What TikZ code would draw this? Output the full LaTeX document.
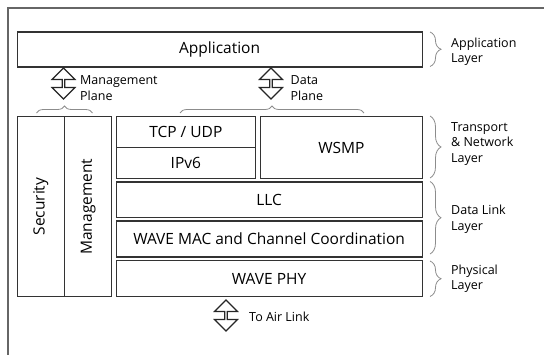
\documentclass[tikz,border=0pt]{standalone}
\usepackage{fontspec}
\setmainfont{Open Sans}
\usetikzlibrary{shapes.arrows,decorations.pathreplacing}

\begin{document}
\begin{tikzpicture}[x=1pt,y=-1pt,
        layerbox/.style={draw=black!80,line width=1.2pt,inner sep=0pt,anchor=north west,
            font=\fontsize{15.5}{18}\selectfont},
        updown/.style={double arrow,shape border rotate=90,draw=black!85,line width=1.1pt,
            minimum height=31pt,minimum width=23pt,double arrow head extend=4.5pt,inner sep=0pt},
        sidetext/.style={anchor=west,align=left,inner sep=0pt,font=\fontsize{12.5}{15.5}\selectfont},
        layerbrace/.style={draw=black!45,line width=0.8pt,decorate,decoration={brace,amplitude=#1}}]
        \useasboundingbox (0,0) rectangle (544,355);

        % outer frame
        \draw[black!60,line width=1.5pt] (544,8) -- (8,8) -- (8,355);

        % protocol stack
        \node[layerbox,minimum width=405pt,minimum height=35pt] (app) at (16.5,31.5) {Application};
        \node[layerbox,minimum width=47.5pt,minimum height=180pt,
            label={[rotate=90,font=\fontsize{15.5}{18}\selectfont]center:Security}] (sec) at (16.5,116) {};
        \node[layerbox,minimum width=47pt,minimum height=180pt,
            label={[rotate=90,font=\fontsize{15.5}{18}\selectfont]center:Management}] (mgmt) at (64,116) {};
        \node[layerbox,minimum width=139.5pt,minimum height=31pt] (tcp) at (115.5,116) {TCP / UDP};
        \node[layerbox,minimum width=139.5pt,minimum height=31pt] (ipv6) at (115.5,147) {IPv6};
        \node[layerbox,minimum width=161.5pt,minimum height=62pt] (wsmp) at (260,116) {WSMP};
        \node[layerbox,minimum width=306pt,minimum height=35.5pt] (llc) at (115.5,181.5) {LLC};
        \node[layerbox,minimum width=306pt,minimum height=36pt] (mac) at (115.5,220.5) {WAVE MAC and Channel Coordination};
        \node[layerbox,minimum width=306pt,minimum height=36pt] (phy) at (115.5,260) {WAVE PHY};

        % planes
        \node[updown] (mgarrow) at (63.5,83.5) {};
        \node[updown] (dataarrow) at (271,83.5) {};
        \node[updown] (airarrow) at (226,315.5) {};
        \node[sidetext] (mgtext) at (80,88) {Management\\Plane};
        \node[sidetext] (datatext) at (290.5,88) {Data\\Plane};
        \node[sidetext] (airtext) at (249,317) {To Air Link};

        \draw[layerbrace=7pt] (36.5,113) -- (92.5,113);
        \draw[layerbrace=7pt] (180,113) -- (364,113);

        % layer names
        \draw[layerbrace=11pt] (430,32) -- (430,66.5);
        \draw[layerbrace=11pt] (430,116) -- (430,178);
        \draw[layerbrace=11pt] (430,181.5) -- (430,254);
        \draw[layerbrace=11pt] (430,261) -- (430,296.5);
        \node[sidetext] (applayer) at (451,52) {Application\\Layer};
        \node[sidetext] (netlayer) at (451,144) {Transport\\\& Network\\Layer};
        \node[sidetext] (linklayer) at (451,219.5) {Data Link\\Layer};
        \node[sidetext] (phylayer) at (451,279) {Physical\\Layer};
    \end{tikzpicture}
\end{document}
